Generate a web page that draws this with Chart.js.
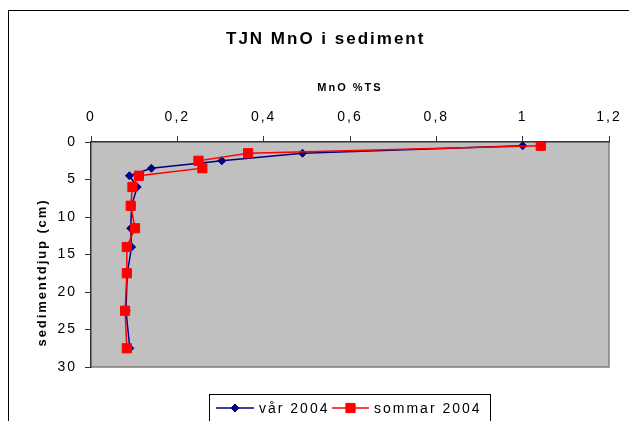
<!DOCTYPE html>
<html><head><meta charset="utf-8">
<style>html,body{margin:0;padding:0;background:#fff;overflow:hidden}</style>
<script src="https://cdn.jsdelivr.net/npm/chart.js@4.4.1/dist/chart.umd.min.js"></script>
</head><body>
<canvas id="c" width="629" height="421" style="width:629px;height:421px;display:block"></canvas>
<script>
const chartTitle = 'TJN MnO i sediment';
const xAxisTitle = 'MnO %TS';
const yAxisTitle = 'sedimentdjup (cm)';
const seriesNames = ['vår 2004', 'sommar 2004'];
const depthVar = [0.5, 1.5, 2.5, 3.5, 4.5, 6, 8.5, 11.5, 14, 17.5, 22.5, 27.5];
const mnoVar = [1.0, 0.49, 0.303, 0.14, 0.089, 0.107, 0.094, 0.092, 0.094, 0.084, 0.081, 0.090];
const depthSommar = [0.5, 1.5, 2.5, 3.5, 4.5, 6, 8.5, 11.5, 14, 17.5, 22.5, 27.5];
const mnoSommar = [1.042, 0.364, 0.249, 0.258, 0.111, 0.096, 0.092, 0.102, 0.083, 0.083, 0.079, 0.083];
const xTickValues = [0, 0.2, 0.4, 0.6, 0.8, 1, 1.2];
const xTickLabels = ['0', '0,2', '0,4', '0,6', '0,8', '1', '1,2'];
const yTickValues = [0, 5, 10, 15, 20, 25, 30];
const yTickLabels = ['0', '5', '10', '15', '20', '25', '30'];

const FONT = '"Liberation Sans", Arial, sans-serif';
const TICK_LS = '2px';

function labelFor(values, labels, v) {
  let best = 0;
  values.forEach((t, i) => { if (Math.abs(t - v) < Math.abs(values[best] - v)) best = i; });
  return labels[best];
}

const decor = {
  id: 'decor',
  beforeLayout(chart) { chart.ctx.letterSpacing = TICK_LS; },
  beforeDraw(chart) {
    const ctx = chart.ctx, a = chart.chartArea;
    ctx.save();
    ctx.fillStyle = '#fff';
    ctx.fillRect(0, 0, chart.width, chart.height);
    ctx.strokeStyle = '#000';
    ctx.lineWidth = 1;
    ctx.strokeRect(8.5, 10.5, chart.width + 40, chart.height + 40);
    ctx.fillStyle = '#C0C0C0';
    ctx.fillRect(a.left, a.top, a.right - a.left, a.bottom - a.top);
    ctx.strokeStyle = '#808080';
    ctx.lineWidth = 1.5;
    ctx.beginPath();
    ctx.moveTo(a.left, a.bottom);
    ctx.lineTo(a.right, a.bottom);
    ctx.lineTo(a.right, a.top);
    ctx.stroke();
    ctx.fillStyle = '#000';
    ctx.letterSpacing = '2px';
    ctx.font = 'bold 17px ' + FONT;
    ctx.textAlign = 'left';
    ctx.textBaseline = 'alphabetic';
    ctx.fillText(chartTitle, 226, 44);
    ctx.letterSpacing = '1.9px';
    ctx.font = 'bold 13px ' + FONT;
    ctx.translate(42, 272.5);
    ctx.rotate(-Math.PI / 2);
    ctx.textAlign = 'center';
    ctx.textBaseline = 'middle';
    ctx.fillText(yAxisTitle, 0, 0);
    ctx.restore();
    ctx.letterSpacing = TICK_LS;
  },
  afterDraw(chart) {
    const ctx = chart.ctx;
    ctx.save();
    ctx.strokeStyle = '#000';
    ctx.lineWidth = 1;
    ctx.strokeRect(209.5, 394.5, 281, 60);
    const items = [
      {ds: chart.data.datasets[0], x0: 216, x1: 254, tx: 259},
      {ds: chart.data.datasets[1], x0: 332, x1: 369, tx: 374}
    ];
    const y = 408;
    items.forEach(it => {
      const ds = it.ds;
      ctx.strokeStyle = ds.borderColor;
      ctx.lineWidth = ds.borderWidth;
      ctx.beginPath();
      ctx.moveTo(it.x0, y);
      ctx.lineTo(it.x1, y);
      ctx.stroke();
      ctx.fillStyle = ds.pointBackgroundColor;
      ctx.strokeStyle = ds.pointBorderColor;
      ctx.lineWidth = ds.pointBorderWidth;
      Chart.helpers.drawPoint(ctx, {pointStyle: ds.pointStyle, radius: ds.pointRadius, borderWidth: ds.pointBorderWidth, rotation: 0}, (it.x0 + it.x1) / 2, y);
      ctx.fillStyle = '#000';
      ctx.letterSpacing = '2px';
      ctx.font = '14px ' + FONT;
      ctx.textAlign = 'left';
      ctx.textBaseline = 'middle';
      ctx.fillText(ds.label, it.tx, y + 1);
    });
    ctx.restore();
  }
};

const toPts = (xs, ys) => xs.map((v, i) => ({x: v, y: ys[i]}));

new Chart(document.getElementById('c'), {
  type: 'scatter',
  data: {
    datasets: [
      {
        label: seriesNames[0],
        data: toPts(mnoVar, depthVar),
        showLine: true,
        borderColor: '#000080', backgroundColor: '#000080',
        pointBackgroundColor: '#000080', pointBorderColor: '#000080',
        borderWidth: 1.5, pointStyle: 'rectRot', pointRadius: 4, pointBorderWidth: 1,
        order: 1
      },
      {
        label: seriesNames[1],
        data: toPts(mnoSommar, depthSommar),
        showLine: true,
        borderColor: '#FF0000', backgroundColor: '#FF0000',
        pointBackgroundColor: '#FF0000', pointBorderColor: '#FF0000',
        borderWidth: 1.5, pointStyle: 'rect', pointRadius: 6.5, pointBorderWidth: 1,
        order: 0
      }
    ]
  },
  options: {
    responsive: false,
    animation: false,
    devicePixelRatio: 1,
    layout: {padding: {top: 0, left: 0, right: 20, bottom: 54}},
    plugins: {legend: {display: false}, title: {display: false}, tooltip: {enabled: false}},
    scales: {
      x: {
        type: 'linear', position: 'top', min: 0, max: 1.2,
        afterFit: s => { s.height = 142; s.paddingLeft = 0; s.paddingRight = 0; },
        ticks: {stepSize: 0.2, padding: 10.5, color: '#000', font: {family: FONT, size: 14},
          callback: v => labelFor(xTickValues, xTickLabels, v)},
        grid: {drawOnChartArea: false, tickLength: 6, color: '#333', lineWidth: 1},
        border: {color: '#333', width: 1.5},
        title: {display: true, text: xAxisTitle, color: '#000', font: {family: FONT, size: 11, weight: 'bold'}, padding: {top: 81, bottom: 0}}
      },
      y: {
        type: 'linear', reverse: true, min: 0, max: 30,
        afterFit: s => { s.width = 91; s.paddingTop = 0; s.paddingBottom = 0; },
        ticks: {stepSize: 5, padding: 8, color: '#000', font: {family: FONT, size: 14},
          callback: v => labelFor(yTickValues, yTickLabels, v)},
        grid: {drawOnChartArea: false, tickLength: 6, color: '#333', lineWidth: 1},
        border: {color: '#333', width: 1.5}
      }
    }
  },
  plugins: [decor]
});
</script>
</body></html>
